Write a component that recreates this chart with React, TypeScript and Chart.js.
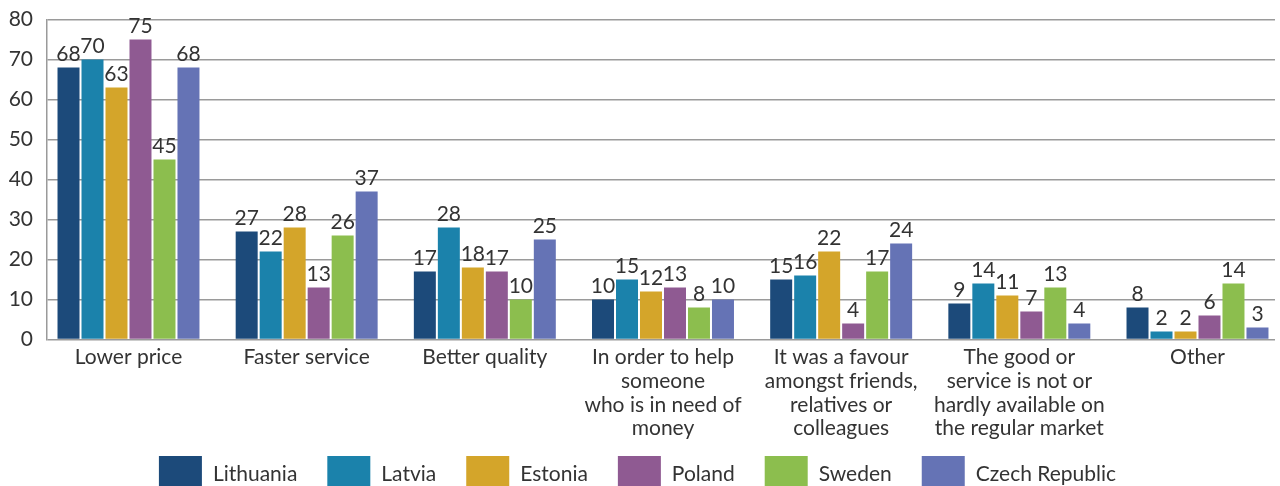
import React, { useEffect, useRef } from "react";
import { Chart, registerables } from "chart.js";

Chart.register(...registerables);

const categories: string[][] = [
  ["Lower price"],
  ["Faster service"],
  ["Better quality"],
  ["In order to help", "someone", "who is in need of", "money"],
  ["It was a favour", "amongst friends,", "relatives or", "colleagues"],
  ["The good or", "service is not or", "hardly available on", "the regular market"],
  ["Other"],
];

const countries = ["Lithuania", "Latvia", "Estonia", "Poland", "Sweden", "Czech Republic"];
const colors = ["#1c4a7a", "#1b82ab", "#d4a52a", "#8f5a92", "#8cbe4e", "#6573b5"];

const lithuania = [68, 27, 17, 10, 15, 9, 8];
const latvia = [70, 22, 28, 15, 16, 14, 2];
const estonia = [63, 28, 18, 12, 22, 11, 2];
const poland = [75, 13, 17, 13, 4, 7, 6];
const sweden = [45, 26, 10, 8, 17, 13, 14];
const czech = [68, 37, 25, 10, 24, 4, 3];

const seriesValues = [lithuania, latvia, estonia, poland, sweden, czech];

const yMin = 0;
const yMax = 80;
const yStep = 10;

const FONT = "Lato, 'Open Sans', sans-serif";
const TEXT = "#333333";
const GRID = "#9a9a9a";
const FS = 21;

const valueLabels = {
  id: "valueLabels",
  afterDatasetsDraw(chart: any) {
    const ctx = chart.ctx;
    ctx.save();
    ctx.font = `${FS}px ${FONT}`;
    ctx.fillStyle = TEXT;
    ctx.textAlign = "center";
    ctx.textBaseline = "alphabetic";
    chart.data.datasets.forEach((ds: any, i: number) => {
      const meta = chart.getDatasetMeta(i);
      meta.data.forEach((bar: any, j: number) => {
        const v = ds.data[j].y;
        ctx.fillText(String(v), bar.x, bar.y - 7);
      });
    });
    ctx.restore();
  },
};

const customLegend = {
  id: "customLegend",
  afterDraw(chart: any) {
    const ctx = chart.ctx;
    ctx.save();
    ctx.font = `${FS}px ${FONT}`;
    const boxW = 43;
    const boxH = 30;
    const gapText = 11;
    const gapItem = 30;
    const widths = countries.map((c) => boxW + gapText + ctx.measureText(c).width);
    const total = widths.reduce((a, b) => a + b, 0) + gapItem * (countries.length - 1);
    let x = 637.5 - total / 2;
    const top = 456;
    countries.forEach((c, i) => {
      ctx.fillStyle = colors[i];
      ctx.fillRect(x, top, boxW, boxH);
      ctx.fillStyle = TEXT;
      ctx.textAlign = "left";
      ctx.textBaseline = "alphabetic";
      ctx.fillText(c, x + boxW + gapText, 480.5);
      x += widths[i] + gapItem;
    });
    ctx.restore();
  },
};

export default function App() {
  const canvasRef = useRef<HTMLCanvasElement | null>(null);

  useEffect(() => {
    document.body.style.margin = "0";
    let chart: Chart | null = null;
    let cancelled = false;

    const build = () => {
      if (cancelled || !canvasRef.current) return;
      const datasets = countries.map((name, i) => ({
        label: name,
        data: seriesValues[i].map((v, j) => ({ x: j, y: v })),
        backgroundColor: colors[i],
        borderWidth: 0,
        barPercentage: 0.9167,
        categoryPercentage: 0.808,
      }));

      chart = new Chart(canvasRef.current, {
        type: "bar",
        data: { datasets } as any,
        plugins: [valueLabels, customLegend],
        options: {
          animation: false,
          responsive: false,
          devicePixelRatio: 1,
          layout: { padding: { top: 19.5, right: 5, left: 0, bottom: 0 } },
          plugins: {
            legend: { display: false },
            tooltip: { enabled: false },
          },
          scales: {
            x: {
              type: "linear",
              offset: false,
              min: -0.4574,
              max: 6.435,
              afterBuildTicks: (s: any) => {
                s.ticks = categories.map((_, i) => ({ value: i }));
              },
              afterFit: (s: any) => {
                s.height = 146.5;
              },
              grid: { display: false, drawTicks: false, offset: false },
              border: { display: false },
              ticks: {
                autoSkip: false,
                maxRotation: 0,
                minRotation: 0,
                padding: 6,
                color: TEXT,
                font: { family: FONT, size: FS, lineHeight: 1.13 },
                callback: (v: any) => categories[v] ?? "",
              },
            },
            y: {
              min: yMin,
              max: yMax,
              afterFit: (s: any) => {
                s.width = 47;
              },
              grid: {
                color: GRID,
                lineWidth: 1.5,
                drawTicks: true,
                tickLength: 14,
                tickColor: "rgba(0,0,0,0)",
              },
              border: { display: true, color: GRID, width: 1.5 },
              ticks: {
                stepSize: yStep,
                padding: 0,
                color: TEXT,
                font: { family: FONT, size: FS },
              },
            },
          },
        } as any,
      });
    };

    const fontsReady = (document as any).fonts
      ? (document as any).fonts.load(`${FS}px Lato`).catch(() => null)
      : Promise.resolve();
    fontsReady.then(build, build);

    return () => {
      cancelled = true;
      if (chart) chart.destroy();
    };
  }, []);

  return (
    <div style={{ width: 1280, height: 486 }}>
      <canvas ref={canvasRef} width={1280} height={486} />
    </div>
  );
}
